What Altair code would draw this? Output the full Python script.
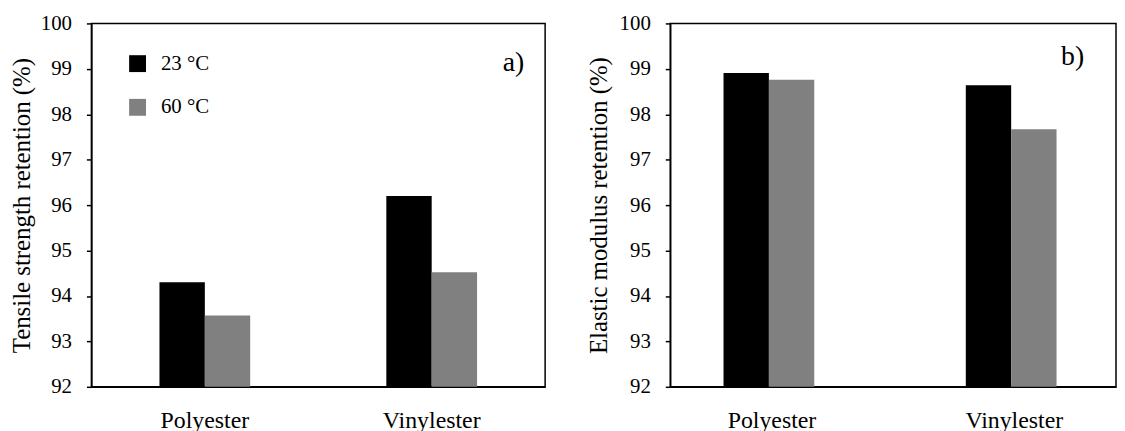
import altair as alt
import pandas as pd

materials = ["Polyester", "Vinylester"]
temps = ["23 °C", "60 °C"]
tensile_23 = [94.30, 96.20]
tensile_60 = [93.57, 94.52]
modulus_23 = [98.91, 98.64]
modulus_60 = [98.76, 97.67]
y_ticks = [92, 93, 94, 95, 96, 97, 98, 99, 100]

FONT = "Liberation Serif"


def make_df(v23, v60):
    rows = []
    for i, m in enumerate(materials):
        rows.append({"material": m, "temp": temps[0], "value": v23[i]})
        rows.append({"material": m, "temp": temps[1], "value": v60[i]})
    return pd.DataFrame(rows)


def panel(df, ytitle, letter, outer, legend, width, lx, ly, tpad):
    bars = alt.Chart(df).mark_bar().encode(
        x=alt.X(
            "material:N",
            sort=materials,
            scale=alt.Scale(paddingInner=0.6, paddingOuter=outer),
            axis=alt.Axis(title=None, labelAngle=0, ticks=False, labelPadding=22,
                          labelFontSize=24, labelFont=FONT, labelColor="#000"),
        ),
        xOffset=alt.XOffset("temp:N", sort=temps),
        y=alt.Y(
            "value:Q",
            scale=alt.Scale(domain=[92, 100], nice=False, zero=False),
            axis=alt.Axis(values=y_ticks, title=ytitle, titlePadding=tpad,
                          labelPadding=15, labelFontSize=21, titleFontSize=25,
                          titleFontWeight="normal", labelFont=FONT, titleFont=FONT,
                          grid=False),
        ),
        y2=alt.datum(92),
        color=alt.Color("temp:N", sort=temps,
                        scale=alt.Scale(domain=temps, range=["#000000", "#808080"]),
                        legend=legend),
    )
    txt = alt.Chart(pd.DataFrame({"t": [letter]})).mark_text(
        align="right", baseline="alphabetic", fontSize=28, font=FONT, color="#000"
    ).encode(text="t:N", x=alt.value(lx), y=alt.value(ly))
    return alt.layer(bars, txt).properties(width=width, height=366)


left_legend = alt.Legend(
    orient="none", legendX=36, legendY=30, title=None, symbolType="square",
    symbolSize=289, labelFontSize=21, labelOffset=13, rowPadding=22, padding=0,
    symbolStrokeWidth=0, labelFont=FONT, labelColor="#000",
)

left = panel(make_df(tensile_23, tensile_60), "Tensile strength retention (%)", "a)",
             0.3, left_legend, 457, 436, 48, 6)
right = panel(make_df(modulus_23, modulus_60), "Elastic modulus retention (%)", "b)",
              0.22, None, 449, 417, 42, 7.5)

chart = alt.hconcat(left, right, spacing=40).resolve_scale(
    color="independent", x="independent", y="independent"
).properties(
    padding={"left": 0, "top": 2, "right": 0, "bottom": 0}
).configure(font=FONT).configure_axis(
    domainColor="#000", domainWidth=1.5, tickColor="#000", tickWidth=1.5,
    tickSize=5, labelColor="#000", titleColor="#000",
).configure_view(stroke="#000", strokeWidth=1.5)

chart.save("out.html", embed_options={"renderer": "svg", "actions": False})
